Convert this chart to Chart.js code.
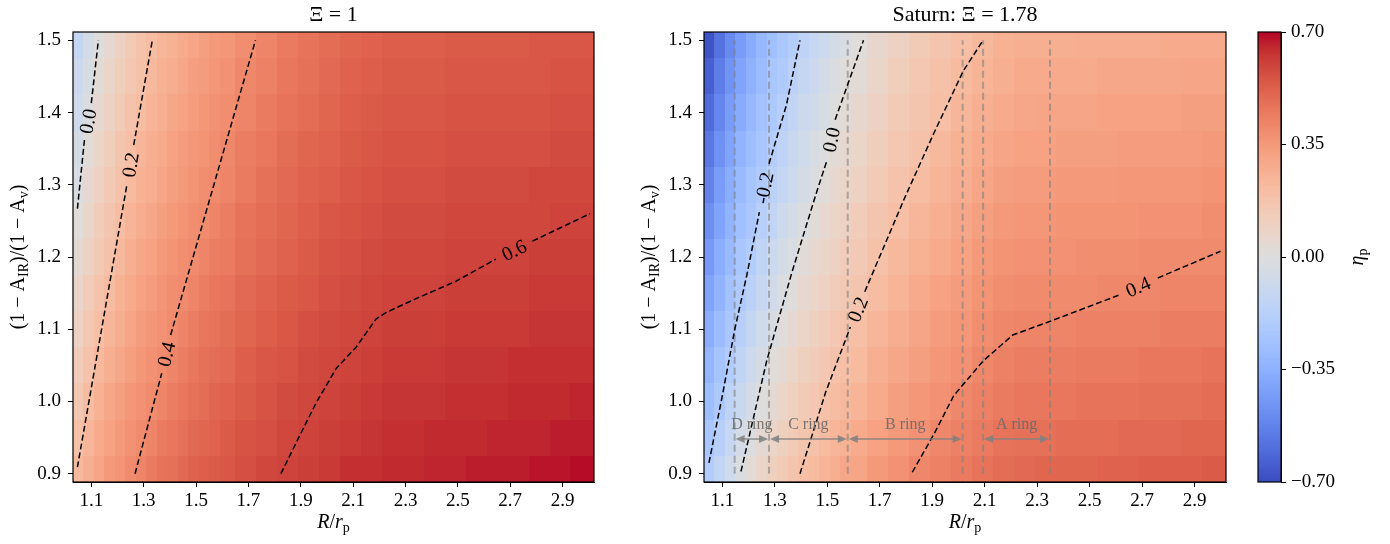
<!DOCTYPE html>
<html><head><meta charset="utf-8">
<script src="https://cdn.jsdelivr.net/npm/chart.js@4/dist/chart.umd.min.js"></script>
<style>
html,body{margin:0;padding:0;background:#fff;width:1390px;height:544px;overflow:hidden;}
canvas{position:absolute;top:0;}
</style></head><body>
<canvas id="cL" width="620" height="544" style="left:0px;width:620px;height:544px"></canvas>
<canvas id="cR" width="610" height="544" style="left:630px;width:610px;height:544px"></canvas>
<canvas id="cB" width="150" height="544" style="left:1240px;width:150px;height:544px"></canvas>
<script>
// ---------------- DATA ----------------
// R/r_p cell centres (columns) and (1-A_IR)/(1-A_v) cell centres (rows)
const xCenters = [1.05,1.09,1.13,1.17,1.21,1.25,1.29,1.33,1.37,1.41,1.45,1.49,1.53,1.57,1.61,1.69,1.77,1.85,1.93,2.01,2.09,2.17,2.25,2.33,2.41,2.49,2.57,2.65,2.73,2.81,2.89,2.97];
const yCenters = [0.90,0.95,1.00,1.05,1.10,1.15,1.20,1.25,1.30,1.35,1.40,1.45,1.50];

// eta_p, left panel (Xi = 1), one row per y centre
const etaXi1 = [
 [0.23,0.27,0.31,0.35,0.37,0.40,0.42,0.45,0.47,0.48,0.50,0.52,0.53,0.54,0.55,0.57,0.59,0.60,0.61,0.62,0.64,0.64,0.65,0.65,0.66,0.66,0.67,0.67,0.67,0.68,0.68,0.69],
 [0.19,0.24,0.29,0.32,0.35,0.38,0.40,0.42,0.45,0.46,0.48,0.50,0.51,0.52,0.54,0.56,0.57,0.59,0.60,0.61,0.62,0.63,0.64,0.64,0.65,0.65,0.65,0.66,0.66,0.66,0.67,0.67],
 [0.16,0.21,0.26,0.30,0.33,0.36,0.38,0.40,0.42,0.44,0.46,0.48,0.49,0.51,0.52,0.54,0.56,0.58,0.59,0.60,0.61,0.62,0.63,0.63,0.63,0.64,0.64,0.64,0.65,0.65,0.65,0.66],
 [0.13,0.18,0.23,0.27,0.30,0.33,0.36,0.38,0.40,0.42,0.44,0.46,0.48,0.49,0.50,0.53,0.55,0.56,0.58,0.59,0.60,0.61,0.62,0.62,0.62,0.63,0.63,0.63,0.64,0.64,0.64,0.64],
 [0.10,0.16,0.20,0.24,0.28,0.31,0.34,0.36,0.38,0.40,0.42,0.44,0.46,0.47,0.49,0.51,0.53,0.55,0.57,0.58,0.59,0.60,0.61,0.61,0.61,0.62,0.62,0.62,0.62,0.63,0.63,0.63],
 [0.07,0.13,0.18,0.22,0.26,0.29,0.32,0.34,0.37,0.39,0.40,0.42,0.44,0.46,0.47,0.50,0.52,0.54,0.55,0.57,0.58,0.59,0.60,0.60,0.60,0.61,0.61,0.61,0.61,0.62,0.62,0.62],
 [0.04,0.10,0.15,0.19,0.23,0.27,0.30,0.32,0.35,0.37,0.39,0.40,0.42,0.44,0.45,0.48,0.50,0.52,0.54,0.56,0.57,0.58,0.59,0.59,0.59,0.60,0.60,0.60,0.60,0.61,0.61,0.61],
 [0.01,0.07,0.13,0.17,0.21,0.25,0.28,0.30,0.33,0.35,0.37,0.39,0.40,0.42,0.44,0.47,0.49,0.51,0.53,0.55,0.56,0.57,0.58,0.58,0.58,0.59,0.59,0.59,0.59,0.59,0.60,0.60],
 [-0.02,0.05,0.10,0.15,0.19,0.22,0.26,0.28,0.31,0.33,0.35,0.37,0.39,0.40,0.42,0.45,0.48,0.50,0.52,0.53,0.55,0.56,0.57,0.57,0.57,0.58,0.58,0.58,0.58,0.59,0.59,0.59],
 [-0.04,0.02,0.08,0.12,0.17,0.20,0.24,0.27,0.29,0.32,0.34,0.36,0.37,0.39,0.41,0.44,0.46,0.49,0.51,0.52,0.54,0.55,0.56,0.56,0.56,0.57,0.57,0.57,0.57,0.57,0.58,0.58],
 [-0.07,-0.01,0.05,0.10,0.14,0.18,0.21,0.25,0.27,0.30,0.32,0.34,0.36,0.38,0.39,0.42,0.45,0.47,0.49,0.51,0.53,0.54,0.55,0.55,0.55,0.56,0.56,0.56,0.56,0.56,0.57,0.57],
 [-0.09,-0.03,0.02,0.08,0.12,0.16,0.19,0.23,0.26,0.28,0.30,0.33,0.34,0.36,0.38,0.41,0.43,0.46,0.48,0.50,0.52,0.53,0.54,0.54,0.54,0.55,0.55,0.55,0.55,0.55,0.56,0.56],
 [-0.12,-0.05,0.00,0.05,0.10,0.14,0.18,0.21,0.24,0.26,0.29,0.31,0.33,0.35,0.36,0.39,0.42,0.45,0.47,0.49,0.51,0.52,0.53,0.53,0.53,0.54,0.54,0.54,0.54,0.55,0.55,0.55]
];

// eta_p, right panel (Saturn, Xi = 1.78)
const etaSaturn = [
 [-0.20,-0.13,-0.07,-0.01,0.03,0.08,0.11,0.14,0.17,0.20,0.22,0.25,0.27,0.30,0.31,0.35,0.38,0.41,0.43,0.45,0.47,0.49,0.50,0.51,0.51,0.51,0.52,0.52,0.53,0.53,0.53,0.54],
 [-0.24,-0.18,-0.11,-0.05,-0.01,0.04,0.08,0.11,0.14,0.17,0.19,0.22,0.24,0.26,0.29,0.32,0.35,0.38,0.41,0.43,0.45,0.47,0.48,0.48,0.49,0.49,0.49,0.50,0.50,0.50,0.51,0.51],
 [-0.28,-0.22,-0.15,-0.10,-0.04,0.00,0.04,0.08,0.11,0.14,0.16,0.19,0.21,0.23,0.25,0.29,0.33,0.36,0.38,0.41,0.43,0.45,0.46,0.46,0.46,0.47,0.47,0.47,0.48,0.48,0.48,0.49],
 [-0.32,-0.25,-0.20,-0.14,-0.08,-0.04,0.01,0.04,0.08,0.11,0.13,0.16,0.18,0.20,0.22,0.27,0.30,0.33,0.36,0.38,0.41,0.43,0.44,0.44,0.44,0.45,0.45,0.45,0.46,0.46,0.46,0.47],
 [-0.36,-0.29,-0.23,-0.18,-0.12,-0.07,-0.03,0.01,0.05,0.08,0.11,0.13,0.16,0.18,0.20,0.24,0.28,0.31,0.34,0.36,0.39,0.41,0.42,0.42,0.42,0.43,0.43,0.43,0.43,0.44,0.44,0.44],
 [-0.40,-0.33,-0.26,-0.21,-0.16,-0.11,-0.06,-0.02,0.01,0.05,0.08,0.10,0.13,0.15,0.17,0.21,0.25,0.29,0.32,0.34,0.37,0.39,0.40,0.40,0.40,0.40,0.41,0.41,0.41,0.42,0.42,0.42],
 [-0.44,-0.36,-0.30,-0.24,-0.20,-0.14,-0.09,-0.05,-0.02,0.02,0.05,0.08,0.10,0.13,0.15,0.19,0.23,0.26,0.29,0.32,0.35,0.37,0.38,0.38,0.38,0.39,0.39,0.39,0.40,0.40,0.40,0.40],
 [-0.48,-0.40,-0.33,-0.27,-0.23,-0.18,-0.13,-0.08,-0.05,-0.01,0.02,0.05,0.08,0.10,0.13,0.17,0.20,0.24,0.27,0.30,0.33,0.35,0.36,0.36,0.37,0.37,0.37,0.37,0.38,0.38,0.38,0.39],
 [-0.52,-0.43,-0.36,-0.30,-0.25,-0.21,-0.16,-0.12,-0.08,-0.04,-0.01,0.02,0.05,0.08,0.10,0.14,0.18,0.21,0.25,0.28,0.31,0.33,0.34,0.34,0.35,0.35,0.35,0.36,0.36,0.36,0.36,0.37],
 [-0.56,-0.47,-0.40,-0.33,-0.28,-0.24,-0.19,-0.15,-0.10,-0.07,-0.03,0.00,0.03,0.05,0.08,0.12,0.16,0.19,0.23,0.26,0.29,0.31,0.32,0.32,0.33,0.33,0.33,0.34,0.34,0.34,0.34,0.35],
 [-0.60,-0.51,-0.43,-0.37,-0.31,-0.26,-0.22,-0.18,-0.13,-0.09,-0.06,-0.03,0.00,0.03,0.06,0.10,0.14,0.17,0.20,0.24,0.27,0.29,0.30,0.31,0.31,0.31,0.32,0.32,0.32,0.32,0.33,0.33],
 [-0.64,-0.54,-0.46,-0.40,-0.34,-0.29,-0.24,-0.21,-0.16,-0.12,-0.09,-0.05,-0.02,0.01,0.03,0.08,0.12,0.16,0.19,0.22,0.25,0.27,0.29,0.29,0.29,0.29,0.30,0.30,0.30,0.30,0.31,0.31],
 [-0.68,-0.58,-0.50,-0.43,-0.37,-0.31,-0.27,-0.23,-0.19,-0.15,-0.11,-0.08,-0.05,-0.02,0.01,0.06,0.10,0.14,0.17,0.20,0.23,0.26,0.27,0.27,0.27,0.28,0.28,0.28,0.28,0.29,0.29,0.29]
];

// contour lines: [x, y] points, null = gap holding the inline label
const xi1Contour00 = [[1.047,1.267],[1.074,1.363],null,[1.100,1.413],[1.127,1.500]];
const xi1Contour02 = [[1.047,0.909],[1.236,1.300],null,[1.262,1.355],[1.333,1.500]];
const xi1Contour04 = [[1.267,0.900],[1.369,1.039],null,[1.403,1.092],[1.727,1.500]];
const xi1Contour06 = [[1.824,0.900],[1.899,0.955],[1.960,0.999],[2.036,1.046],[2.111,1.075],[2.187,1.114],[2.225,1.123],[2.338,1.142],[2.490,1.166],[2.645,1.197],null,[2.785,1.222],[3.005,1.260]];
const satContourM02 = [[1.049,0.915],[1.100,1.008],[1.147,1.099],[1.194,1.176],[1.241,1.262],null,[1.278,1.329],[1.344,1.410],[1.396,1.500]];
const satContour00 = [[1.171,0.903],[1.269,1.056],[1.363,1.176],[1.456,1.286],[1.500,1.335],null,[1.530,1.390],[1.638,1.500]];
const satContour02 = [[1.396,0.900],[1.494,1.013],[1.588,1.103],null,[1.643,1.152],[1.794,1.281],[1.907,1.372],[2.019,1.458],[2.094,1.500]];
const satContour04 = [[1.824,0.902],[1.907,0.955],[1.982,1.008],[2.094,1.056],[2.207,1.092],[2.357,1.112],[2.610,1.147],null,[2.760,1.171],[2.999,1.208]];
const xi1Levels = ['0.0','0.2','0.4','0.6'];
const satLevels = ['-0.2','0.0','0.2','0.4'];

// Saturn ring boundaries (R/r_p) and ring names
const ringEdges = [1.147,1.278,1.578,2.016,2.094,2.349];
const ringNames = ['D ring','C ring','B ring','A ring'];
const ringSpans = [[1.147,1.278],[1.278,1.578],[1.578,2.016],[2.094,2.349]];

// ticks
const xTickVals = [1.1,1.3,1.5,1.7,1.9,2.1,2.3,2.5,2.7,2.9];
const xTickLabels = ['1.1','1.3','1.5','1.7','1.9','2.1','2.3','2.5','2.7','2.9'];
const yTickVals = [0.9,1.0,1.1,1.2,1.3,1.4,1.5];
const yTickLabels = ['0.9','1.0','1.1','1.2','1.3','1.4','1.5'];
const cbTickVals = [-0.7,-0.35,0,0.35,0.7];
const cbTickLabels = ['\u22120.70','\u22120.35','0.00','0.35','0.70'];

// ---------------- STYLE / HELPERS ----------------
const F = "'Liberation Serif','Times New Roman',serif";
const TICK = 19;
const VMIN = -0.7, VMAX = 0.7;
const X_MIN = 1.0301, X_MAX = 3.0199, Y_MIN = 0.8885, Y_MAX = 1.5115;
const CW = [[0.2298057,0.298717966,0.753683153],[0.26623388,0.353094838,0.801466763],[0.30386891,0.406535296,0.84495867],[0.342804478,0.458757618,0.883725899],[0.38301334,0.50941904,0.917387822],[0.424369608,0.558148092,0.945619588],[0.46666708,0.604562568,0.968154911],[0.509635204,0.648280772,0.98478814],[0.552953156,0.688929332,0.995375608],[0.596262162,0.726149107,0.999836203],[0.639176211,0.759599947,0.998151185],[0.681291281,0.788964712,0.990363227],[0.722193294,0.813952739,0.976574709],[0.761464949,0.834302879,0.956945269],[0.798691636,0.849786142,0.931688648],[0.833466556,0.860207984,0.901068838],[0.865395197,0.86541021,0.865395561],[0.897787179,0.848937047,0.820880546],[0.924127593,0.827384882,0.774508472],[0.944468518,0.800927443,0.726736146],[0.958852946,0.769767752,0.678007945],[0.96732803,0.734132809,0.628751763],[0.969954137,0.694266682,0.579375448],[0.966811177,0.650421156,0.530263762],[0.958003065,0.602842431,0.481775914],[0.943660866,0.551750968,0.434243684],[0.923944917,0.49730856,0.387970225],[0.89904617,0.439559467,0.343229596],[0.869186849,0.378313092,0.300267182],[0.834620542,0.312874446,0.259301199],[0.795631745,0.24128379,0.220525627],[0.752534934,0.157246067,0.184115123],[0.705673158,0.01555616,0.150232812]];
function coolwarm(t){
  t = Math.max(0, Math.min(1, t));
  const f = t*32, i = Math.min(31, Math.floor(f)), r = f - i, a = CW[i], b = CW[i+1];
  const c = k => Math.round(255*(a[k] + (b[k]-a[k])*r));
  return 'rgb(' + c(0) + ',' + c(1) + ',' + c(2) + ')';
}
function edges(c, lo, hi){ const e=[lo]; for(let i=0;i<c.length-1;i++) e.push((c[i]+c[i+1])/2); e.push(hi); return e; }

function drawRich(ctx, parts, cx, cy, rot, base, color){
  ctx.save(); ctx.translate(cx, cy); ctx.rotate(rot);
  const fontOf = p => (p.it ? 'italic ' : '') + (p.sub ? Math.round(base*0.7) : base) + 'px ' + F;
  let total = 0;
  const ws = parts.map(p => { ctx.font = fontOf(p); const w = ctx.measureText(p.t).width; total += w; return w; });
  let x = -total/2;
  ctx.fillStyle = color || '#000'; ctx.textAlign = 'left'; ctx.textBaseline = 'alphabetic';
  parts.forEach((p,i) => { ctx.font = fontOf(p); ctx.fillText(p.t, x, base*0.33 + (p.sub ? base*0.22 : 0)); x += ws[i]; });
  ctx.restore();
}

function contourDatasets(c){
  const segs=[[]];
  c.forEach(p => { if(p===null) segs.push([]); else segs[segs.length-1].push({x:p[0], y:p[1]}); });
  return segs.map(s => ({data:s, showLine:true, borderColor:'#000', borderWidth:1.5, borderDash:[6,3], pointRadius:0, pointHoverRadius:0, fill:false, tension:0}));
}

function panelPlugin(cfg){
  return {
    id: 'panel' + cfg.key,
    beforeDatasetsDraw(chart){
      const {ctx, chartArea:a, scales:{x:sx, y:sy}} = chart;
      const xe = edges(xCenters, sx.min, sx.max), ye = edges(yCenters, sy.min, sy.max);
      ctx.save(); ctx.beginPath(); ctx.rect(a.left, a.top, a.right-a.left, a.bottom-a.top); ctx.clip();
      for (let j=0;j<yCenters.length;j++){
        const yt = Math.round(sy.getPixelForValue(ye[j+1])), yb = Math.round(sy.getPixelForValue(ye[j]));
        for (let i=0;i<xCenters.length;i++){
          const xl = Math.round(sx.getPixelForValue(xe[i])), xr = Math.round(sx.getPixelForValue(xe[i+1]));
          ctx.fillStyle = coolwarm((cfg.z[j][i]-VMIN)/(VMAX-VMIN));
          ctx.fillRect(xl, yt, xr-xl, yb-yt);
        }
      }
      ctx.restore();
    },
    afterDatasetsDraw(chart){
      const {ctx, scales:{x:sx, y:sy}} = chart;
      if (cfg.rings){
        const col = 'rgba(128,128,128,0.85)';
        const ya = sy.getPixelForValue(0.948), yl = sy.getPixelForValue(0.969);
        ringSpans.forEach((s,k) => {
          const x0 = sx.getPixelForValue(s[0]) + 1, x1 = sx.getPixelForValue(s[1]) - 1;
          ctx.save(); ctx.strokeStyle = col; ctx.fillStyle = col; ctx.lineWidth = 1.5;
          ctx.beginPath(); ctx.moveTo(x0+6, ya); ctx.lineTo(x1-6, ya); ctx.stroke();
          ctx.beginPath(); ctx.moveTo(x0, ya); ctx.lineTo(x0+9, ya-4); ctx.lineTo(x0+9, ya+4); ctx.closePath(); ctx.fill();
          ctx.beginPath(); ctx.moveTo(x1, ya); ctx.lineTo(x1-9, ya-4); ctx.lineTo(x1-9, ya+4); ctx.closePath(); ctx.fill();
          ctx.restore();
          drawRich(ctx, [{t:ringNames[k]}], (sx.getPixelForValue(s[0])+sx.getPixelForValue(s[1]))/2, yl, 0, 16, 'rgba(105,105,105,0.9)');
        });
      }
      cfg.contours.forEach((c,k) => {
        const n = c.indexOf(null); if (n < 0) return;
        const p1 = c[n-1], p2 = c[n+1];
        const x1 = sx.getPixelForValue(p1[0]), y1 = sy.getPixelForValue(p1[1]);
        const x2 = sx.getPixelForValue(p2[0]), y2 = sy.getPixelForValue(p2[1]);
        let ang = Math.atan2(y2-y1, x2-x1);
        if (ang > Math.PI/2) ang -= Math.PI; if (ang < -Math.PI/2) ang += Math.PI;
        drawRich(ctx, [{t:cfg.levels[k]}], (x1+x2)/2, (y1+y2)/2, ang, 20, '#000');
      });
    },
    afterDraw(chart){
      const {ctx, chartArea:a} = chart;
      ctx.save(); ctx.strokeStyle = '#000'; ctx.lineWidth = 1.2;
      ctx.strokeRect(a.left, a.top, a.right-a.left, a.bottom-a.top); ctx.restore();
      const cx = (a.left + a.right)/2;
      drawRich(ctx, cfg.title, cx, 14, 0, 22);
      drawRich(ctx, [{t:'R', it:true},{t:'/'},{t:'r', it:true},{t:'p', sub:true}], cx, 521, 0, 20);
      drawRich(ctx, [{t:'(1 \u2212 A'},{t:'IR', sub:true},{t:')/(1 \u2212 A'},{t:'v', sub:true},{t:')'}], a.left-56, (a.top+a.bottom)/2, -Math.PI/2, 20);
    }
  };
}

function axisOpts(){
  return {
    x: {type:'linear', min:X_MIN, max:X_MAX,
        afterBuildTicks: s => { s.ticks = xTickVals.map(v => ({value:v})); },
        afterFit: s => { s.height = 62; },
        ticks: {color:'#000', font:{family:F, size:TICK}, padding:3, maxRotation:0, autoSkip:false, callback:(v,i) => xTickLabels[i]},
        grid: {display:true, drawOnChartArea:false, drawTicks:true, tickLength:5, tickColor:'#000', tickWidth:1},
        border: {display:true, color:'#000', width:1}},
    y: {type:'linear', min:Y_MIN, max:Y_MAX,
        afterBuildTicks: s => { s.ticks = yTickVals.map(v => ({value:v})); },
        ticks: {color:'#000', font:{family:F, size:TICK}, padding:7, autoSkip:false, callback:(v,i) => yTickLabels[i]},
        grid: {display:true, drawOnChartArea:false, drawTicks:true, tickLength:5, tickColor:'#000', tickWidth:1},
        border: {display:true, color:'#000', width:1}}
  };
}

function makePanel(id, cfg, yWidth, padRight){
  const sc = axisOpts();
  sc.y.afterFit = s => { s.width = yWidth; };
  let datasets = [];
  cfg.contours.forEach(c => { datasets = datasets.concat(contourDatasets(c)); });
  if (cfg.rings){
    ringEdges.forEach(x => datasets.push({data:[{x:x, y:0.9},{x:x, y:1.5}], showLine:true, borderColor:'rgba(128,128,128,0.6)', borderWidth:2, borderDash:[7,4], pointRadius:0, pointHoverRadius:0, fill:false}));
  }
  return new Chart(document.getElementById(id), {
    type:'scatter',
    data:{datasets},
    options:{responsive:false, animation:false, devicePixelRatio:1, events:[],
      layout:{padding:{left:0, top:32, right:padRight, bottom:0}},
      plugins:{legend:{display:false}, tooltip:{enabled:false}, title:{display:false}},
      scales: sc},
    plugins:[panelPlugin(cfg)]
  });
}

makePanel('cL', {key:'L', z:etaXi1, contours:[xi1Contour00, xi1Contour02, xi1Contour04, xi1Contour06], levels:xi1Levels, rings:false,
  title:[{t:'\u039E = 1'}]}, 73, 26);
makePanel('cR', {key:'R', z:etaSaturn, contours:[satContourM02, satContour00, satContour02, satContour04], levels:satLevels, rings:true,
  title:[{t:'Saturn: \u039E = 1.78'}]}, 74, 14);

// colour bar
new Chart(document.getElementById('cB'), {
  type:'scatter', data:{datasets:[]},
  options:{responsive:false, animation:false, devicePixelRatio:1, events:[],
    layout:{padding:{left:18, top:32, right:0, bottom:62}},
    plugins:{legend:{display:false}, tooltip:{enabled:false}},
    scales:{
      x:{type:'linear', display:false, min:0, max:1},
      y:{type:'linear', position:'right', min:VMIN, max:VMAX,
         afterBuildTicks: s => { s.ticks = cbTickVals.map(v => ({value:v})); },
         afterFit: s => { s.width = 109; },
         ticks:{color:'#000', font:{family:F, size:TICK}, padding:5, autoSkip:false, callback:(v,i) => cbTickLabels[i]},
         grid:{display:true, drawOnChartArea:false, drawTicks:true, tickLength:5, tickColor:'#000', tickWidth:1},
         border:{display:true, color:'#000', width:1}}
    }},
  plugins:[{id:'cbar',
    beforeDatasetsDraw(chart){
      const {ctx, chartArea:a, scales:{y:sy}} = chart;
      const N = 256;
      for (let i=0;i<N;i++){
        const v0 = VMIN + (VMAX-VMIN)*i/N, v1 = VMIN + (VMAX-VMIN)*(i+1)/N;
        const yb = sy.getPixelForValue(v0), yt = sy.getPixelForValue(v1);
        ctx.fillStyle = coolwarm((i+0.5)/N);
        ctx.fillRect(a.left, Math.floor(yt), a.right-a.left, Math.ceil(yb)-Math.floor(yt));
      }
    },
    afterDraw(chart){
      const {ctx, chartArea:a} = chart;
      ctx.save(); ctx.strokeStyle='#000'; ctx.lineWidth=1.2; ctx.strokeRect(a.left, a.top, a.right-a.left, a.bottom-a.top); ctx.restore();
      drawRich(ctx, [{t:'\u03B7', it:true},{t:'p', sub:true}], 116, (a.top+a.bottom)/2, -Math.PI/2, 20);
    }}]
});
</script>
</body></html>
